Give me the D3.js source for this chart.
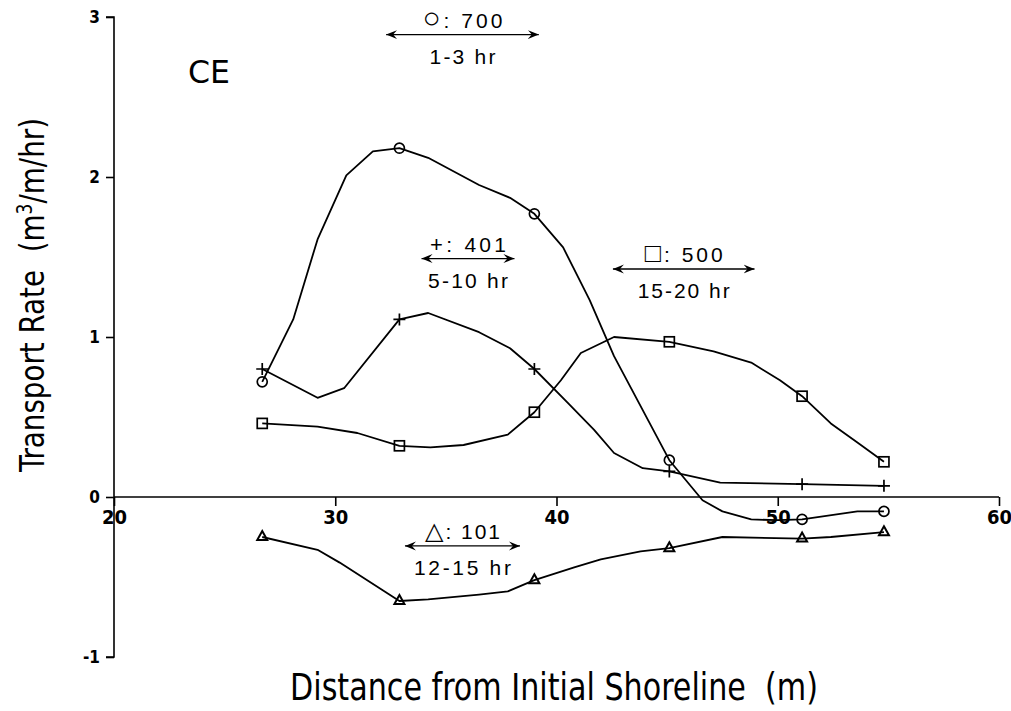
<!DOCTYPE html>
<html>
<head>
<meta charset="utf-8">
<script src="https://cdn.jsdelivr.net/npm/d3@7"></script>
<style>
  html, body { margin: 0; padding: 0; background: #fff; }
  svg { display: block; }
</style>
</head>
<body>
<svg id="chart" width="1011" height="711"></svg>
<script>
// Station positions (m) where transport rate was sampled
const distance = [26.7, 32.9, 39.0, 45.1, 51.1, 54.8];

// Transport rate at the sampled stations (m^3/m/hr), one array per run
const rate700 = [0.72, 2.18, 1.77, 0.23, -0.14, -0.09];
const rate401 = [0.80, 1.11, 0.80, 0.16, 0.08, 0.07];
const rate500 = [0.46, 0.32, 0.53, 0.97, 0.63, 0.22];
const rate101 = [-0.25, -0.65, -0.52, -0.32, -0.26, -0.22];

// Fitted profile traces drawn through the stations
const trace700X = [26.7, 28.1, 29.2, 30.5, 31.7, 32.9, 34.2, 36.5, 37.9, 39.0, 40.3, 41.5, 42.6, 45.1, 46.6, 47.5, 48.8, 50.0, 51.1, 53.6, 54.8];
const trace700Y = [0.72, 1.11, 1.61, 2.01, 2.16, 2.18, 2.12, 1.95, 1.87, 1.77, 1.56, 1.23, 0.88, 0.23, -0.02, -0.09, -0.14, -0.145, -0.14, -0.09, -0.09];
const trace401X = [26.7, 29.2, 30.4, 32.9, 34.2, 36.5, 37.9, 39.0, 40.5, 41.7, 42.6, 43.9, 45.1, 47.4, 51.1, 54.8];
const trace401Y = [0.80, 0.62, 0.68, 1.11, 1.15, 1.03, 0.93, 0.80, 0.59, 0.42, 0.275, 0.18, 0.16, 0.09, 0.08, 0.07];
const trace500X = [26.7, 29.2, 31.0, 32.9, 34.3, 35.8, 37.8, 39.0, 40.2, 41.1, 42.6, 45.1, 47.1, 48.8, 50.1, 51.1, 52.4, 53.6, 54.8];
const trace500Y = [0.46, 0.44, 0.40, 0.32, 0.31, 0.325, 0.39, 0.53, 0.73, 0.90, 1.00, 0.97, 0.91, 0.84, 0.73, 0.63, 0.46, 0.34, 0.22];
const trace101X = [26.7, 29.2, 30.2, 32.9, 34.2, 36.5, 37.8, 39.0, 40.8, 42.0, 43.8, 45.1, 47.5, 51.1, 52.4, 54.8];
const trace101Y = [-0.25, -0.33, -0.41, -0.65, -0.64, -0.61, -0.59, -0.52, -0.44, -0.39, -0.34, -0.32, -0.25, -0.26, -0.25, -0.22];

// Axis ticks
const xTicks = [20, 30, 40, 50, 60];
const yTicks = [-1, 0, 1, 2, 3];

// Run annotations: symbol, run number, time window, arrow extent and height (data units)
const runSymbols = ["\u25CB", "+", "\u25A1", "\u25B3"];
const runNumbers = ["700", "401", "500", "101"];
const runHours   = ["1-3 hr", "5-10 hr", "15-20 hr", "12-15 hr"];
const arrowFrom  = [32.3, 33.9, 42.55, 33.15];
const arrowTo    = [39.2, 38.1, 48.95, 38.35];
const arrowAt    = [2.89, 1.49, 1.425, -0.306];

const svg = d3.select("#chart");
const x = d3.scaleLinear().domain([20, 60]).range([114, 999]);
const y = d3.scaleLinear().domain([-1, 3]).range([657, 17]);

const narrow = "'Liberation Sans Narrow', 'DejaVu Sans Condensed', 'Liberation Sans', sans-serif";
const plain = "'Liberation Sans', 'DejaVu Sans', sans-serif";
const NBSP = "\u00A0";

// ---- axes ----
const yAxis = d3.axisLeft(y).tickValues(yTicks).tickSize(8).tickPadding(6).tickFormat(d => String(d));
const gy = svg.append("g").attr("transform", `translate(${x(20)},0)`).call(yAxis);
gy.select(".domain").attr("d", `M-8,${y(3)}H0V${y(-1)}H-8`).attr("stroke", "#000").attr("stroke-width", 1.6);
gy.selectAll(".tick line").attr("stroke-width", 1.6);
gy.selectAll(".tick text")
  .attr("font-family", narrow).attr("font-weight", "bold").attr("font-size", 17).attr("fill", "#000");

const xAxis = d3.axisBottom(x).tickValues(xTicks).tickSize(9).tickPadding(4).tickFormat(d => String(d));
const gx = svg.append("g").attr("transform", `translate(0,${y(0)})`).call(xAxis);
gx.select(".domain").attr("d", `M${x(20)},0H${x(60)}`).attr("stroke", "#000").attr("stroke-width", 1.6);
gx.selectAll(".tick line").attr("stroke-width", 1.6);
gx.selectAll(".tick text")
  .attr("font-family", narrow).attr("font-weight", "bold").attr("font-size", 20).attr("fill", "#000");

// ---- axis titles ----
svg.append("text")
  .attr("x", 554).attr("y", 700)
  .attr("text-anchor", "middle")
  .attr("font-family", narrow).attr("font-size", 37)
  .attr("textLength", 528).attr("lengthAdjust", "spacingAndGlyphs")
  .text("Distance from Initial Shoreline" + NBSP + " (m)");

const yTitle = svg.append("text")
  .attr("transform", "translate(44,295) rotate(-90)")
  .attr("text-anchor", "middle")
  .attr("font-family", narrow).attr("font-size", 34)
  .attr("textLength", 354).attr("lengthAdjust", "spacingAndGlyphs");
yTitle.append("tspan").text("Transport Rate" + NBSP + " (m");
yTitle.append("tspan").attr("baseline-shift", "super").attr("font-size", 21).text("3");
yTitle.append("tspan").text("/m/hr)");

// Site label
svg.append("text")
  .attr("x", 209).attr("y", 83)
  .attr("text-anchor", "middle")
  .attr("font-family", narrow).attr("font-size", 32)
  .attr("textLength", 42).attr("lengthAdjust", "spacingAndGlyphs")
  .text("CE");

// ---- profile lines ----
const line = d3.line()
  .x(d => x(d[0])).y(d => y(d[1]))
  .curve(d3.curveLinear);

const traces = [
  d3.zip(trace700X, trace700Y),
  d3.zip(trace401X, trace401Y),
  d3.zip(trace500X, trace500Y),
  d3.zip(trace101X, trace101Y)
];
svg.append("g").selectAll("path").data(traces).join("path")
  .attr("d", line)
  .attr("fill", "none").attr("stroke", "#000").attr("stroke-width", 1.8)
  .attr("stroke-linejoin", "round");

// ---- station markers ----
const mk = svg.append("g").attr("fill", "none").attr("stroke", "#000").attr("stroke-width", 1.7);

mk.selectAll("circle").data(d3.zip(distance, rate700)).join("circle")
  .attr("cx", d => x(d[0])).attr("cy", d => y(d[1])).attr("r", 5);

mk.selectAll("path.plus").data(d3.zip(distance, rate401)).join("path")
  .attr("class", "plus")
  .attr("d", d => `M${x(d[0]) - 6},${y(d[1])}h12M${x(d[0])},${y(d[1]) - 6}v12`);

mk.selectAll("rect").data(d3.zip(distance, rate500)).join("rect")
  .attr("x", d => x(d[0]) - 5).attr("y", d => y(d[1]) - 5)
  .attr("width", 10).attr("height", 10);

mk.selectAll("path.tri").data(d3.zip(distance, rate101)).join("path")
  .attr("class", "tri")
  .attr("stroke-width", 2)
  .attr("d", d => `M${x(d[0])},${y(d[1]) - 6}L${x(d[0]) + 5},${y(d[1]) + 3}L${x(d[0]) - 5},${y(d[1]) + 3}Z`);

// ---- run annotations ----
const defs = svg.append("defs");
["start", "end"].forEach(k => {
  defs.append("marker")
    .attr("id", "arrow-" + k)
    .attr("viewBox", "0 -5 12 10")
    .attr("refX", 11).attr("refY", 0)
    .attr("markerWidth", 12).attr("markerHeight", 10)
    .attr("markerUnits", "userSpaceOnUse")
    .attr("orient", k === "start" ? "auto-start-reverse" : "auto")
    .append("path")
    .attr("d", "M0,-4.5L11,0L0,4.5L4,0Z")
    .attr("fill", "#000");
});

const labelWidths = [80, 76, 78, 75];
const hourWidths  = [66, 80, 92, 97];
const symbolSize  = [30, 22, 27, 24];

const ann = svg.append("g");
runNumbers.forEach((num, i) => {
  const x0 = x(arrowFrom[i]), x1 = x(arrowTo[i]), yy = y(arrowAt[i]);
  const cx = (x0 + x1) / 2;
  ann.append("line")
    .attr("x1", x0).attr("x2", x1).attr("y1", yy).attr("y2", yy)
    .attr("stroke", "#000").attr("stroke-width", 1.3)
    .attr("marker-start", "url(#arrow-start)").attr("marker-end", "url(#arrow-end)");
  const top = ann.append("text")
    .attr("x", cx).attr("y", yy - 7)
    .attr("text-anchor", "middle")
    .attr("font-family", plain).attr("font-size", 21)
    .attr("textLength", labelWidths[i]).attr("lengthAdjust", "spacing");
  top.append("tspan").attr("font-size", symbolSize[i]).text(runSymbols[i]);
  top.append("tspan").text(": " + num);
  ann.append("text")
    .attr("x", cx).attr("y", yy + 29)
    .attr("text-anchor", "middle")
    .attr("font-family", plain).attr("font-size", 21)
    .attr("textLength", hourWidths[i]).attr("lengthAdjust", "spacing")
    .text(runHours[i]);
});
</script>
</body>
</html>
